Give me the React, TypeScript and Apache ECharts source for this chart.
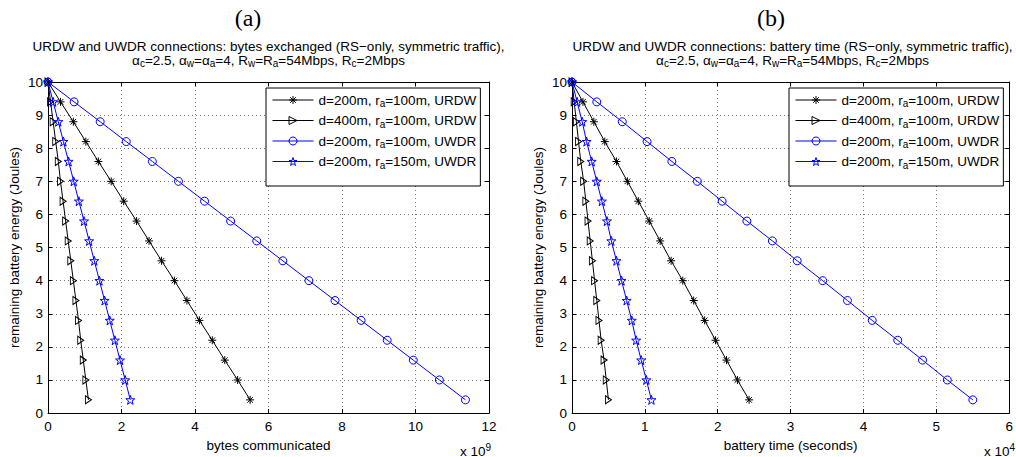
import React, { useEffect, useRef } from 'react';
import * as echarts from 'echarts';

// remaining battery energy (Joules) at each marker
const energy = [10, 9.4, 8.8, 8.2, 7.6, 7.0, 6.4, 5.8, 5.2, 4.6, 4.0, 3.4, 2.8, 2.2, 1.6, 1.0, 0.4];

// (a) bytes communicated, in units of 1e9
const bytesUrdw200r100 = [0, 0.34, 0.69, 1.03, 1.37, 1.72, 2.06, 2.41, 2.75, 3.09, 3.44, 3.78, 4.12, 4.47, 4.81, 5.16, 5.5];
const bytesUrdw400r100 = [0, 0.07, 0.14, 0.21, 0.28, 0.34, 0.41, 0.48, 0.55, 0.62, 0.69, 0.76, 0.83, 0.89, 0.96, 1.03, 1.1];
const bytesUwdr200r100 = [0, 0.71, 1.42, 2.13, 2.84, 3.55, 4.26, 4.97, 5.68, 6.39, 7.1, 7.81, 8.52, 9.23, 9.94, 10.65, 11.36];
const bytesUwdr200r150 = [0, 0.14, 0.28, 0.42, 0.56, 0.7, 0.84, 0.98, 1.12, 1.26, 1.4, 1.54, 1.68, 1.82, 1.96, 2.1, 2.24];

// (b) battery time (seconds), in units of 1e4
const timeUrdw200r100 = [0, 0.15, 0.3, 0.45, 0.61, 0.76, 0.91, 1.06, 1.21, 1.36, 1.52, 1.67, 1.82, 1.97, 2.12, 2.27, 2.43];
const timeUrdw400r100 = [0, 0.03, 0.06, 0.09, 0.12, 0.16, 0.19, 0.22, 0.25, 0.28, 0.31, 0.34, 0.37, 0.4, 0.44, 0.47, 0.5];
const timeUwdr200r100 = [0, 0.34, 0.69, 1.03, 1.37, 1.72, 2.06, 2.4, 2.75, 3.09, 3.44, 3.78, 4.12, 4.47, 4.81, 5.15, 5.5];
const timeUwdr200r150 = [0, 0.07, 0.14, 0.2, 0.27, 0.34, 0.41, 0.48, 0.54, 0.61, 0.68, 0.75, 0.82, 0.88, 0.95, 1.02, 1.09];

const seriesNames = [
  'd=200m, ra=100m, URDW',
  'd=400m, ra=100m, URDW',
  'd=200m, ra=100m, UWDR',
  'd=200m, ra=150m, UWDR',
];
const legendLabels = [
  'd=200m, r{s|a}=100m, URDW',
  'd=400m, r{s|a}=100m, URDW',
  'd=200m, r{s|a}=100m, UWDR',
  'd=200m, r{s|a}=150m, UWDR',
];

const panelLetters = ['(a)', '(b)'];
const titleLine1 = [
  'URDW and UWDR connections: bytes exchanged (RS\u2212only, symmetric traffic),',
  'URDW and UWDR connections: battery time (RS\u2212only, symmetric traffic),',
];
const titleLine2 = '\u03b1{s|c}=2.5, \u03b1{s|w}=\u03b1{s|a}=4, R{s|w}=R{s|a}=54Mbps, R{s|c}=2Mbps';
const xNames = ['bytes communicated', 'battery time (seconds)'];
const xExponents = ['9', '4'];
const yName = 'remaining battery energy (Joules)';
const xMax = [12, 6];
const xInterval = [2, 1];
const yMax = 10;
const yInterval = 1;

const FONT = '"Liberation Sans", Arial, Helvetica, sans-serif';
const SERIF = '"Liberation Serif", "Times New Roman", serif';
const BLUE = '#0000ff';
const FS = 13.5;
const SUB = 10;

const ASTERISK = 'path://M5,0L5,10M0,5L10,5M1.5,1.5L8.5,8.5M1.5,8.5L8.5,1.5';
const TRIANGLE = 'path://M0,0L10,5L0,10Z';
const STAR = 'path://M5,0L6.176,3.382L9.755,3.455L6.902,5.618L7.939,9.045L5,7L2.061,9.045L3.098,5.618L0.245,3.455L3.824,3.382Z';

const styles = [
  { color: '#000', symbol: ASTERISK, size: 8 },
  { color: '#000', symbol: TRIANGLE, size: [6, 8] },
  { color: BLUE, symbol: 'circle', size: 8 },
  { color: BLUE, symbol: STAR, size: 9 },
];

const grids = [
  { left: 48, top: 82, width: 441, height: 334 },
  { left: 572, top: 82, width: 441, height: 334 },
];

export default function App() {
  const ref = useRef<HTMLDivElement>(null);
  useEffect(() => {
    if (!ref.current) return;
    const chart = echarts.init(ref.current, undefined, { renderer: 'svg' });
    const panelX = [bytesUrdw200r100, bytesUrdw400r100, bytesUwdr200r100, bytesUwdr200r150];
    const panelXb = [timeUrdw200r100, timeUrdw400r100, timeUwdr200r100, timeUwdr200r150];
    const panels = [panelX, panelXb];

    const xAxes: any[] = [];
    const yAxes: any[] = [];
    const series: any[] = [];
    const legends: any[] = [];
    const graphics: any[] = [];

    panels.forEach((xs, p) => {
      const g = grids[p];
      const baseX = {
        type: 'value', gridIndex: p, min: 0, max: xMax[p], interval: xInterval[p],
        axisLine: { show: true, onZero: false, lineStyle: { color: '#000', width: 1 } },
        axisTick: { show: true, inside: true, length: 4, lineStyle: { color: '#000' } },
      };
      xAxes.push({
        ...baseX, position: 'bottom',
        name: xNames[p], nameLocation: 'middle', nameGap: 21,
        nameTextStyle: { fontFamily: FONT, fontSize: FS, color: '#000' },
        axisLabel: { fontFamily: FONT, fontSize: FS, color: '#000', margin: 6 },
        splitLine: { show: true, lineStyle: { color: '#777', type: [1, 3], width: 1 } },
      });
      xAxes.push({ ...baseX, position: 'top', axisLabel: { show: false }, splitLine: { show: false } });
      const baseY = {
        type: 'value', gridIndex: p, min: 0, max: yMax, interval: yInterval,
        axisLine: { show: true, onZero: false, lineStyle: { color: '#000', width: 1 } },
        axisTick: { show: true, inside: true, length: 4, lineStyle: { color: '#000' } },
      };
      yAxes.push({
        ...baseY, position: 'left',
        name: yName, nameLocation: 'middle', nameGap: 27, nameRotate: 90,
        nameTextStyle: { fontFamily: FONT, fontSize: FS, color: '#000' },
        axisLabel: { fontFamily: FONT, fontSize: FS, color: '#000', margin: 5 },
        splitLine: { show: true, lineStyle: { color: '#777', type: [1, 3], width: 1 } },
      });
      yAxes.push({ ...baseY, position: 'right', axisLabel: { show: false }, splitLine: { show: false } });

      xs.forEach((arr, i) => {
        const st = styles[i];
        series.push({
          type: 'line', name: seriesNames[i],
          xAxisIndex: p * 2, yAxisIndex: p * 2,
          data: arr.map((x, k) => [x, energy[k]]),
          symbol: st.symbol, symbolSize: st.size,
          lineStyle: { color: st.color, width: 1 },
          itemStyle: { color: 'rgba(0,0,0,0)', borderColor: st.color, borderWidth: 1 },
          clip: false, z: 3,
          emphasis: { disabled: true },
        });
      });

      legends.push({
        orient: 'vertical',
        left: p === 0 ? 266 : 789, top: 88,
        padding: [5, 4, 16, 6], itemGap: 5, itemWidth: 41, itemHeight: 10,
        backgroundColor: '#fff', borderColor: '#000', borderWidth: 1, borderRadius: 0,
        selectedMode: false,
        data: seriesNames.map((n, i) => ({
          name: n,
          itemStyle: { color: 'rgba(0,0,0,0)', borderColor: styles[i].color, borderWidth: 1 },
          lineStyle: { color: styles[i].color, width: 1 },
        })),
        formatter: (n: string) => legendLabels[seriesNames.indexOf(n)],
        textStyle: {
          fontFamily: FONT, fontSize: FS, color: '#000', width: 166,
          rich: { s: { fontFamily: FONT, fontSize: SUB, color: '#000', padding: [7, 0, 0, 0] } },
        },
      });

      const cx = g.left + g.width / 2;
      const letterX = p === 0 ? 248 : 771;
      graphics.push({
        type: 'text', x: letterX, y: 18,
        style: { text: panelLetters[p], fontSize: 24, fontFamily: SERIF, fill: '#000', align: 'center', verticalAlign: 'middle', textAlign: 'center', textVerticalAlign: 'middle' },
      });
      graphics.push({
        type: 'text', x: cx, y: 46,
        style: { text: titleLine1[p], fontSize: FS, fontFamily: FONT, fill: '#000', align: 'center', verticalAlign: 'middle', textAlign: 'center', textVerticalAlign: 'middle' },
      });
      graphics.push({
        type: 'text', x: cx, y: 60,
        style: {
          text: titleLine2, fontSize: FS, fontFamily: FONT, fill: '#000', align: 'center', verticalAlign: 'middle', textAlign: 'center', textVerticalAlign: 'middle',
          rich: { s: { fontSize: SUB, fontFamily: FONT, fill: '#000', padding: [7, 0, 0, 0] } },
        },
      });
      graphics.push({
        type: 'text', x: g.left + g.width + 2, y: 451,
        style: {
          text: 'x 10{sup|' + xExponents[p] + '}', fontSize: FS, fontFamily: FONT, fill: '#000', align: 'right', verticalAlign: 'middle', textAlign: 'right', textVerticalAlign: 'middle',
          rich: { sup: { fontSize: SUB, fontFamily: FONT, fill: '#000', padding: [0, 0, 7, 0] } },
        },
      });
    });

    chart.setOption({
      animation: false,
      backgroundColor: '#fff',
      grid: grids.map((g) => ({ ...g, containLabel: false })),
      xAxis: xAxes,
      yAxis: yAxes,
      legend: legends,
      series,
      graphic: graphics,
    });
    return () => chart.dispose();
  }, []);
  return <div ref={ref} style={{ position: 'fixed', left: 0, top: 0, width: 1016, height: 457 }} />;
}
